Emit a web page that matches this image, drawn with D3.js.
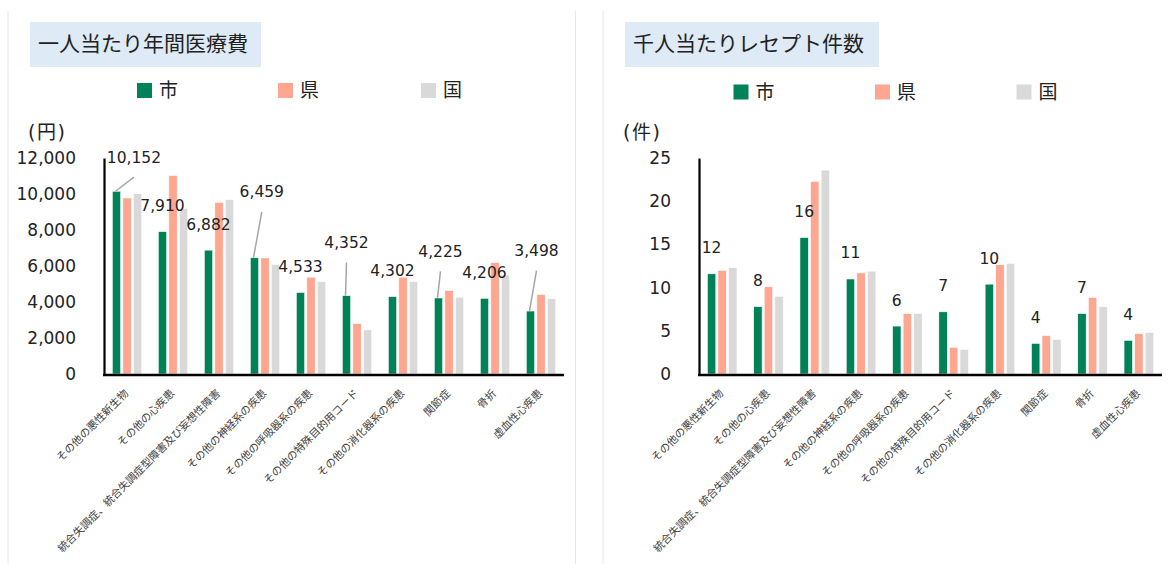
<!DOCTYPE html>
<html>
<head>
<meta charset="utf-8">
<script src="https://cdn.jsdelivr.net/npm/d3@7"></script>
<style>
  body { margin: 0; background: #fff; }
  text { font-family: "DejaVu Sans", "Noto Sans CJK JP", sans-serif; }
  .jp { font-family: "Noto Sans CJK JP", "DejaVu Sans", sans-serif; }
</style>
</head>
<body>
<script>
// categories (x axis)
var categories = [
  "その他の悪性新生物", "その他の心疾患", "統合失調症、統合失調症型障害及び妄想性障害",
  "その他の神経系の疾患", "その他の呼吸器系の疾患", "その他の特殊目的用コード",
  "その他の消化器系の疾患", "関節症", "骨折", "虚血性心疾患"
];
var seriesNames = ["市", "県", "国"];

// 一人当たり年間医療費 (円)
var costCity   = [10152, 7910, 6882, 6459, 4533, 4352, 4302, 4225, 4206, 3498];
var costPref   = [9780, 11030, 9540, 6450, 5380, 2800, 5380, 4640, 6190, 4420];
var costNation = [10020, 9200, 9690, 6080, 5130, 2450, 5130, 4270, 5500, 4180];
var costTicks  = [0, 2000, 4000, 6000, 8000, 10000, 12000];

// 千人当たりレセプト件数 (件)
var cntCity   = [11.6, 7.8, 15.8, 11.0, 5.55, 7.2, 10.4, 3.55, 7.0, 3.9];
var cntPref   = [12.0, 10.1, 22.3, 11.7, 7.0, 3.1, 12.65, 4.45, 8.86, 4.68];
var cntNation = [12.3, 9.0, 23.6, 11.9, 7.0, 2.85, 12.8, 4.0, 7.8, 4.8];
var cntTicks  = [0, 5, 10, 15, 20, 25];

var colors = ["#008259", "#ffa690", "#d9d9d9"];

var svgWidth = 1169, svgHeight = 564;
var svg = d3.select('body').append('svg').attr('width', svgWidth).attr('height', svgHeight);

// panel frame lines
[8, 575.5, 603].forEach(function (x) {
  svg.append('line').attr('x1', x).attr('x2', x).attr('y1', 11).attr('y2', svgHeight)
    .attr('stroke', '#e6e6e6').attr('stroke-width', 1);
});

// label placement for the left chart (offset from top centre of the 市 bar; leader = line drawn)
var costLabelPos = [
  {dx: 17.5, dy: -28.6, leader: true},
  {dx: 0, dy: -20.5}, {dx: 0, dy: -20.5},
  {dx: 7.3, dy: -60.4, leader: true},
  {dx: 0, dy: -20.5},
  {dx: 0, dy: -47.7, leader: true},
  {dx: 0, dy: -20.5},
  {dx: 2, dy: -41, leader: true},
  {dx: 0, dy: -20.5},
  {dx: 6, dy: -55, leader: true}
];

function drawPanel(p) {
  var g = svg.append('g');

  // title box
  g.append('rect').attr('x', p.titleBox[0]).attr('y', 22).attr('width', p.titleBox[1]).attr('height', 45)
    .attr('fill', '#deeaf6');
  g.append('text').attr('class', 'jp').attr('x', p.titleBox[0] + 8).attr('y', 51)
    .attr('font-size', 21).attr('fill', '#222').text(p.title);

  // legend
  seriesNames.forEach(function (s, i) {
    g.append('rect').attr('x', p.legendX[i]).attr('y', p.legendY).attr('width', 15).attr('height', 15)
      .attr('fill', colors[i]);
    g.append('text').attr('class', 'jp').attr('x', p.legendX[i] + 22).attr('y', p.legendY + 14)
      .attr('font-size', 19).attr('fill', '#222').text(s);
  });

  // unit
  g.append('text').attr('x', p.unitX).attr('y', 139)
    .attr('font-size', 19).attr('fill', '#222').attr('letter-spacing', 1.5).text(p.unit);

  var x0 = d3.scaleBand().domain(categories).range([p.axisX, p.axisRight])
    .paddingInner(0.36).paddingOuter(0.18);
  var x1 = d3.scaleBand().domain(seriesNames).range([0, x0.bandwidth()]).paddingInner(0.2);
  var y = d3.scaleLinear().domain([0, p.yMax]).range([374, 158]);

  var rows = categories.map(function (c, i) {
    return {cat: c, vals: [p.city[i], p.pref[i], p.nation[i]]};
  });

  g.selectAll('g.grp').data(rows).enter().append('g')
    .attr('transform', function (d) { return 'translate(' + x0(d.cat) + ',0)'; })
    .selectAll('rect').data(function (d) { return d.vals; }).enter().append('rect')
    .attr('x', function (d, i) { return x1(seriesNames[i]); })
    .attr('width', x1.bandwidth())
    .attr('y', function (d) { return y(d); })
    .attr('height', function (d) { return 374 - y(d); })
    .attr('fill', function (d, i) { return colors[i]; })
    .attr('stroke', '#fff').attr('stroke-width', 0.6);

  // y axis
  var yAxis = g.append('g').attr('transform', 'translate(' + p.axisX + ',0)')
    .call(d3.axisLeft(y).tickValues(p.ticks).tickFormat(p.tickFmt).tickSize(0).tickPadding(28));
  yAxis.select('.domain').attr('stroke', '#000').attr('stroke-width', 2.2);
  yAxis.selectAll('text').attr('font-size', 17).attr('fill', '#222')
    .attr('font-family', '"DejaVu Sans", sans-serif');

  // x axis line
  g.append('line').attr('x1', p.axisX - 1).attr('x2', p.axisRight).attr('y1', 375).attr('y2', 375)
    .attr('stroke', '#000').attr('stroke-width', 2.5);

  // category labels
  g.selectAll('text.cat').data(categories).enter().append('text')
    .attr('class', 'jp')
    .attr('transform', function (d) {
      return 'translate(' + (x0(d) + x0.bandwidth() / 2 + 2) + ',394) rotate(-45)';
    })
    .attr('text-anchor', 'end').attr('font-size', 10.7).attr('fill', '#404040')
    .text(function (d) { return d; });

  // data labels for 市
  rows.forEach(function (d, i) {
    var bx = x0(d.cat) + x1(seriesNames[0]) + x1.bandwidth() / 2;
    var by = y(d.vals[0]);
    var pos = p.labelPos ? p.labelPos[i] : {dx: 0, dy: -20.5};
    if (pos.leader) {
      g.append('line').attr('x1', bx - 1).attr('y1', by)
        .attr('x2', bx + pos.dx).attr('y2', by + pos.dy + 14.5)
        .attr('stroke', '#a6a6a6').attr('stroke-width', 1.5);
    }
    g.append('text').attr('x', bx + pos.dx).attr('y', by + pos.dy)
      .attr('text-anchor', 'middle').attr('font-size', 15.5).attr('fill', '#222')
      .text(p.labelFmt(d.vals[0]));
  });
}

drawPanel({
  title: '一人当たり年間医療費', titleBox: [30, 231],
  legendX: [137, 278, 421], legendY: 83,
  unit: '(円)', unitX: 28,
  axisX: 104, axisRight: 564, yMax: 12000, ticks: costTicks, tickFmt: d3.format(','),
  city: costCity, pref: costPref, nation: costNation,
  labelFmt: d3.format(','), labelPos: costLabelPos
});

drawPanel({
  title: '千人当たりレセプト件数', titleBox: [625, 254],
  legendX: [733.5, 875, 1016.5], legendY: 84.5,
  unit: '(件)', unitX: 623,
  axisX: 699, axisRight: 1162, yMax: 25, ticks: cntTicks, tickFmt: d3.format('d'),
  city: cntCity, pref: cntPref, nation: cntNation,
  labelFmt: d3.format('.0f'), labelPos: null
});
</script>
</body>
</html>
